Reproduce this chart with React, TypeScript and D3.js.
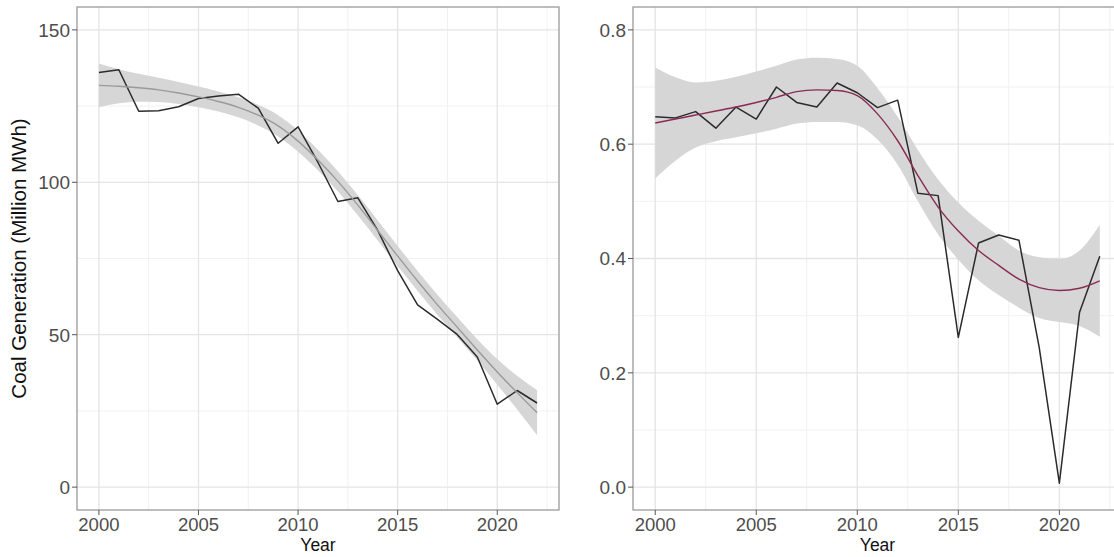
import React from 'react';
import * as d3 from 'd3';

// years on the x axis
const years = [2000, 2001, 2002, 2003, 2004, 2005, 2006, 2007, 2008, 2009, 2010, 2011,
  2012, 2013, 2014, 2015, 2016, 2017, 2018, 2019, 2020, 2021, 2022];

// left panel: coal generation (million MWh)
const coalGen = [136.0, 136.9, 123.3, 123.5, 124.8, 127.5, 128.3, 128.9, 124.3, 112.8, 118.2, 106.5,
  93.7, 94.9, 84.2, 71.0, 59.8, 55.0, 50.0, 42.7, 27.2, 31.7, 27.6];
const coalFit = [131.8, 131.5, 131.0, 130.3, 129.3, 128.0, 126.5, 124.6, 122.0, 118.5, 113.5, 107.3,
  100.3, 92.5, 84.2, 75.8, 67.6, 59.8, 52.4, 45.0, 37.8, 31.0, 24.4];
const coalUpper = [139.0, 137.1, 135.6, 134.3, 132.9, 131.4, 129.8, 127.9, 125.4, 122.0, 117.0, 110.7,
  103.6, 95.8, 87.5, 79.1, 70.9, 63.1, 55.7, 48.5, 42.0, 36.5, 31.8];
const coalLower = [124.6, 125.9, 126.4, 126.3, 125.7, 124.6, 123.2, 121.3, 118.6, 115.0, 110.0, 103.9,
  97.0, 89.2, 80.9, 72.5, 64.3, 56.5, 49.1, 41.5, 33.6, 25.5, 17.0];

// right panel: ratio
const ratio = [0.648, 0.646, 0.657, 0.628, 0.665, 0.644, 0.700, 0.673, 0.665, 0.707, 0.690, 0.664,
  0.677, 0.514, 0.510, 0.262, 0.427, 0.441, 0.432, 0.245, 0.007, 0.306, 0.404];
const ratioFit = [0.637, 0.644, 0.651, 0.658, 0.665, 0.673, 0.682, 0.692, 0.695, 0.694, 0.685, 0.653,
  0.606, 0.545, 0.490, 0.448, 0.414, 0.388, 0.364, 0.349, 0.344, 0.348, 0.361];
const ratioUpper = [0.734, 0.717, 0.708, 0.711, 0.718, 0.727, 0.737, 0.748, 0.751, 0.749, 0.737, 0.698,
  0.648, 0.590, 0.538, 0.498, 0.466, 0.440, 0.414, 0.402, 0.399, 0.414, 0.459];
const ratioLower = [0.540, 0.571, 0.594, 0.605, 0.612, 0.619, 0.627, 0.636, 0.639, 0.639, 0.633, 0.608,
  0.564, 0.500, 0.442, 0.398, 0.362, 0.336, 0.314, 0.296, 0.289, 0.282, 0.263];

const xTicks = [2000, 2005, 2010, 2015, 2020];
const xMinor = [2002.5, 2007.5, 2012.5, 2017.5, 2022.5];
const coalTicks = [0, 50, 100, 150];
const coalMinor = [25, 75, 125];
const ratioTicks = [0, 0.2, 0.4, 0.6, 0.8];
const ratioMinor = [0.1, 0.3, 0.5, 0.7];

const FONT = '"Liberation Sans", Arial, Helvetica, sans-serif';

interface PanelProps {
  id: string;
  left: number;
  right: number;
  yDomain: [number, number];
  values: number[];
  fit: number[];
  upper: number[];
  lower: number[];
  yTicks: number[];
  yMinor: number[];
  fmt: (v: number) => string;
  fitColor: string;
}

const top = 7;
const bottom = 510;

function Panel(p: PanelProps) {
  const x = d3.scaleLinear().domain([1998.9, 2023.1]).range([p.left, p.right]);
  const y = d3.scaleLinear().domain(p.yDomain).range([bottom, top]);

  const ribbon = d3.area<number>()
    .x((_, i) => x(years[i]))
    .y0((_, i) => y(p.lower[i]))
    .y1((_, i) => y(p.upper[i]))
    .curve(d3.curveMonotoneX);
  const smooth = d3.line<number>()
    .x((_, i) => x(years[i]))
    .y(d => y(d))
    .curve(d3.curveMonotoneX);
  const raw = d3.line<number>()
    .x((_, i) => x(years[i]))
    .y(d => y(d));

  return (
    <g>
      <defs>
        <clipPath id={`clip-${p.id}`}>
          <rect x={p.left} y={top} width={p.right - p.left} height={bottom - top} />
        </clipPath>
      </defs>
      <rect x={p.left} y={top} width={p.right - p.left} height={bottom - top} fill="#fff" />
      {/* minor grid */}
      {p.yMinor.map(v => (
        <line key={`ym${v}`} x1={p.left} x2={p.right} y1={y(v)} y2={y(v)} stroke="#f1f1f1" strokeWidth={1} />
      ))}
      {xMinor.map(v => (
        <line key={`xm${v}`} x1={x(v)} x2={x(v)} y1={top} y2={bottom} stroke="#f1f1f1" strokeWidth={1} />
      ))}
      {/* major grid */}
      {p.yTicks.map(v => (
        <line key={`y${v}`} x1={p.left} x2={p.right} y1={y(v)} y2={y(v)} stroke="#e4e4e4" strokeWidth={1.3} />
      ))}
      {xTicks.map(v => (
        <line key={`x${v}`} x1={x(v)} x2={x(v)} y1={top} y2={bottom} stroke="#e4e4e4" strokeWidth={1.3} />
      ))}
      <g clipPath={`url(#clip-${p.id})`}>
        <path d={ribbon(p.fit) || ''} fill="#d6d6d6" />
        <path d={raw(p.values) || ''} fill="none" stroke="#2b2b2b" strokeWidth={1.5} strokeLinejoin="round" />
        <path d={smooth(p.fit) || ''} fill="none" stroke={p.fitColor} strokeWidth={1.4} />
      </g>
      <rect x={p.left} y={top} width={p.right - p.left} height={bottom - top} fill="none" stroke="#9a9a9a" strokeWidth={1.3} />
      {/* y ticks */}
      {p.yTicks.map(v => (
        <g key={`yt${v}`}>
          <line x1={p.left - 5} x2={p.left} y1={y(v)} y2={y(v)} stroke="#555" strokeWidth={1} />
          <text x={p.left - 7} y={y(v)} dy="0.36em" textAnchor="end" fontSize={19} fill="#4d4d4d" fontFamily={FONT}>
            {p.fmt(v)}
          </text>
        </g>
      ))}
      {/* x ticks */}
      {xTicks.map(v => (
        <g key={`xt${v}`}>
          <line x1={x(v)} x2={x(v)} y1={bottom} y2={bottom + 5} stroke="#555" strokeWidth={1} />
          <text x={x(v)} y={bottom + 21} textAnchor="middle" fontSize={18.5} fill="#4d4d4d" fontFamily={FONT}>
            {v}
          </text>
        </g>
      ))}
      <text x={(p.left + p.right) / 2} y={551} textAnchor="middle" fontSize={17.5} fill="#111" fontFamily={FONT}>Year</text>
    </g>
  );
}

export default function App() {
  return (
    <svg width={1114} height={557} style={{ position: 'absolute', left: 0, top: 0, background: '#fff' }}>
      <Panel
        id="coal"
        left={77}
        right={559}
        yDomain={[-7.5, 157.5]}
        values={coalGen}
        fit={coalFit}
        upper={coalUpper}
        lower={coalLower}
        yTicks={coalTicks}
        yMinor={coalMinor}
        fmt={d3.format('d')}
        fitColor="#9a9a9a"
      />
      <Panel
        id="ratio"
        left={633}
        right={1122}
        yDomain={[-0.04, 0.84]}
        values={ratio}
        fit={ratioFit}
        upper={ratioUpper}
        lower={ratioLower}
        yTicks={ratioTicks}
        yMinor={ratioMinor}
        fmt={d3.format('.1f')}
        fitColor="#8b2a55"
      />
      <text
        transform={`translate(26,${(top + bottom) / 2}) rotate(-90)`}
        textAnchor="middle"
        fontSize={20.5}
        fill="#111"
        fontFamily={FONT}
      >
        Coal Generation (Million MWh)
      </text>
    </svg>
  );
}
